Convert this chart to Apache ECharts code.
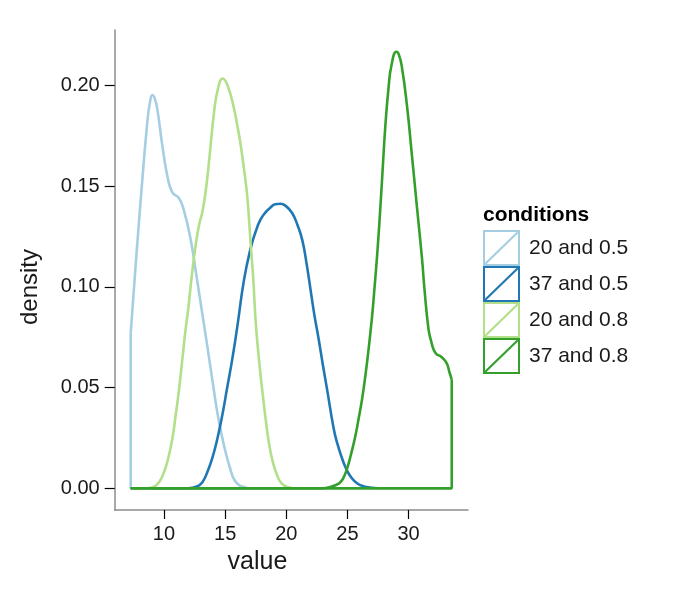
<!DOCTYPE html>
<html>
<head>
<meta charset="utf-8">
<title>density by conditions</title>
<script src="https://cdn.jsdelivr.net/npm/echarts@6/dist/echarts.min.js"></script>
<style>
  html, body { margin: 0; padding: 0; background: #fff; }
  #main { width: 675px; height: 600px; }
</style>
</head>
<body>
<div id="main"></div>
<script>
// conditions (legend order = drawing order)
const conditions = ['20 and 0.5', '37 and 0.5', '20 and 0.8', '37 and 0.8'];
const colors = ['#A6CEE3', '#1F78B4', '#B2DF8A', '#33A02C'];

// tick labels
const xTicks = [10, 15, 20, 25, 30];
const yTicks = [0, 0.05, 0.10, 0.15, 0.20];

// density curves (value, density)
const x20_05 = [7.28, 7.6, 7.9, 8.24, 8.64, 8.85, 9.05, 9.25, 9.46, 9.87, 10.28, 10.68, 11.23, 11.63, 12.18, 12.67, 13.1, 13.54, 13.95, 14.36, 14.7, 15.04, 15.4, 15.71, 16.1, 16.53, 17.0, 33.53];
const d20_05 = [0.077, 0.104, 0.128, 0.154, 0.182, 0.1915, 0.1953, 0.1935, 0.188, 0.170, 0.155, 0.147, 0.144, 0.138, 0.1235, 0.105, 0.088, 0.0707, 0.054, 0.0377, 0.027, 0.0179, 0.010, 0.0047, 0.0018, 0.0006, 0, 0];

const x37_05 = [7.28, 12.0, 12.73, 13.14, 13.54, 13.95, 14.36, 14.76, 15.17, 15.58, 15.99, 16.53, 17.08, 17.5, 17.89, 18.3, 18.71, 19.1, 19.53, 20.0, 20.48, 20.9, 21.3, 21.65, 21.98, 22.3, 22.65, 23.0, 23.34, 23.88, 24.16, 24.55, 24.9, 25.3, 25.79, 26.3, 26.87, 27.5, 33.53];
const d37_05 = [0, 0, 0.001, 0.003, 0.008, 0.015, 0.0245, 0.036, 0.050, 0.064, 0.080, 0.103, 0.119, 0.1275, 0.1334, 0.137, 0.1395, 0.141, 0.1413, 0.140, 0.1367, 0.131, 0.1235, 0.112, 0.0988, 0.086, 0.074, 0.061, 0.049, 0.0295, 0.0225, 0.015, 0.0097, 0.0055, 0.0025, 0.001, 0.0003, 0, 0];

const x20_08 = [7.28, 8.5, 9.18, 9.6, 10.0, 10.35, 10.68, 10.95, 11.23, 11.5, 11.77, 12.0, 12.24, 12.55, 12.86, 13.13, 13.4, 13.67, 14.08, 14.4, 14.8, 15.2, 15.71, 16.0, 16.26, 16.53, 16.81, 17.08, 17.3, 17.49, 17.75, 18.03, 18.3, 18.57, 18.9, 19.26, 19.6, 20.07, 20.6, 33.53];
const d20_08 = [0, 0, 0.0008, 0.003, 0.008, 0.015, 0.0245, 0.036, 0.049, 0.064, 0.079, 0.090, 0.1037, 0.119, 0.1305, 0.137, 0.147, 0.1615, 0.186, 0.198, 0.2035, 0.200, 0.189, 0.180, 0.171, 0.159, 0.145, 0.122, 0.104, 0.0835, 0.065, 0.049, 0.035, 0.0229, 0.013, 0.0063, 0.0025, 0.0006, 0, 0];

const x37_08 = [7.28, 23.0, 23.6, 24.0, 24.42, 24.7, 24.97, 25.3, 25.65, 25.9, 26.2, 26.47, 26.73, 27.01, 27.14, 27.47, 27.8, 28.1, 28.37, 28.6, 29.0, 29.2, 29.46, 29.87, 30.28, 30.68, 31.1, 31.3, 31.63, 31.85, 32.04, 32.3, 32.59, 33.08, 33.35, 33.53];
const d37_08 = [0, 0, 0.0006, 0.0015, 0.003, 0.0055, 0.0097, 0.017, 0.026, 0.034, 0.0443, 0.056, 0.069, 0.085, 0.094, 0.119, 0.150, 0.180, 0.1994, 0.210, 0.2168, 0.2155, 0.209, 0.190, 0.165, 0.140, 0.114, 0.099, 0.079, 0.073, 0.069, 0.0665, 0.0657, 0.0625, 0.0575, 0.054];

const xs = [x20_05, x37_05, x20_08, x37_08];
const ds = [d20_05, d37_05, d20_08, d37_08];

// legend key: outlined box with a diagonal, like the ggplot polygon key
const keyIcon = 'path://M0 0L37 0L37 36L0 36Z M2 2L2 34L35 34L35 2Z M1.5 33L34 1.5L35.5 3L3 34.5Z';

const FONT = '"Liberation Sans", Arial, sans-serif';

const chart = echarts.init(document.getElementById('main'), null, { renderer: 'canvas' });

// each group: the smooth curve, then the closing edges (right side, baseline, left side)
const series = [];
conditions.forEach(function (name, i) {
  const x = xs[i], d = ds[i];
  const n = x.length - 1;
  series.push({
    name: name,
    type: 'line',
    data: x.map(function (v, k) { return [v, d[k]]; }),
    smooth: 0.5,
    symbol: 'none',
    lineStyle: { color: colors[i], width: 2.6 },
    itemStyle: { color: colors[i] },
    emphasis: { disabled: true },
    animation: false
  });
  series.push({
    name: name,
    type: 'line',
    data: [[x[n], d[n]], [x[n], 0], [x[0], 0], [x[0], d[0]]],
    symbol: 'none',
    lineStyle: { color: colors[i], width: 2.6 },
    itemStyle: { color: colors[i] },
    emphasis: { disabled: true },
    animation: false
  });
});

const option = {
  backgroundColor: '#fff',
  title: {
    text: 'conditions',
    left: 483,
    top: 205,
    padding: 0,
    textStyle: { fontSize: 21, fontWeight: 'bold', color: '#000', fontFamily: FONT }
  },
  legend: {
    data: conditions,
    orient: 'vertical',
    left: 483,
    top: 230,
    padding: 0,
    itemWidth: 37,
    itemHeight: 36,
    itemGap: 0,
    icon: keyIcon,
    itemStyle: { borderWidth: 0 },
    selectedMode: false,
    textStyle: { fontSize: 21, color: '#1a1a1a', fontFamily: FONT, padding: [0, 0, 0, 4] }
  },
  grid: {
    left: 114.7,
    right: 207,
    top: 30,
    bottom: 90,
    containLabel: false,
    outerBoundsMode: 'none'
  },
  xAxis: {
    type: 'value',
    min: 5.97,
    max: 34.86,
    splitLine: { show: false },
    axisLine: { onZero: false, lineStyle: { color: '#8c8c8c', width: 1.5 } },
    axisTick: { customValues: xTicks, length: 9, lineStyle: { color: '#000', width: 1.2 } },
    axisLabel: { customValues: xTicks, margin: 14, fontSize: 20, color: '#1a1a1a', fontFamily: FONT }
  },
  yAxis: {
    type: 'value',
    min: -0.0108,
    max: 0.2276,
    splitLine: { show: false },
    axisLine: { show: true, onZero: false, lineStyle: { color: '#8c8c8c', width: 1.5 } },
    axisTick: { show: true, customValues: yTicks, length: 10, lineStyle: { color: '#000', width: 1.2 } },
    axisLabel: {
      customValues: yTicks,
      margin: 15,
      fontSize: 20,
      color: '#1a1a1a',
      fontFamily: FONT,
      formatter: function (v) { return v.toFixed(2); }
    }
  },
  graphic: [
    {
      type: 'text',
      x: 257.5,
      y: 562,
      style: { text: 'value', font: '25px ' + FONT, fill: '#1a1a1a', textAlign: 'center', textVerticalAlign: 'middle' }
    },
    {
      type: 'text',
      x: 30,
      y: 287,
      rotation: Math.PI / 2,
      style: { text: 'density', font: '24px ' + FONT, fill: '#1a1a1a', textAlign: 'center', textVerticalAlign: 'middle' }
    }
  ],
  series: series
};

chart.setOption(option);
</script>
</body>
</html>
